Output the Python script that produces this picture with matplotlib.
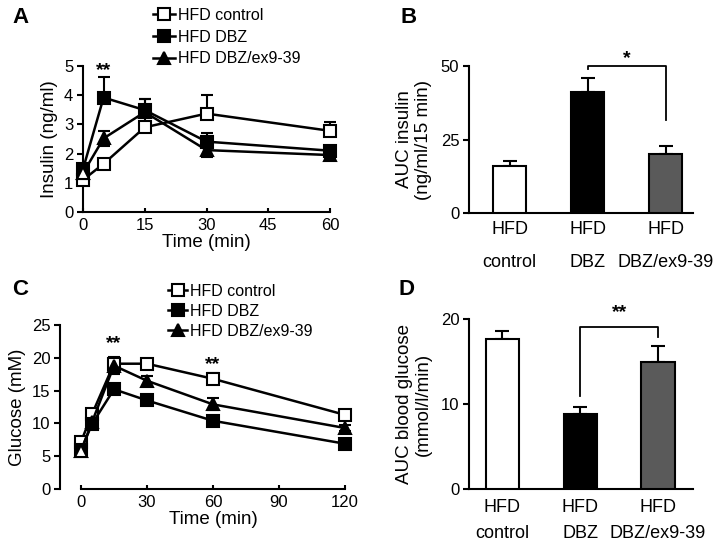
import matplotlib
matplotlib.use("Agg")
import matplotlib.pyplot as plt
from matplotlib.lines import Line2D

plt.rcParams['font.family'] = ['Liberation Sans', 'DejaVu Sans']

# panel A - insulin during OGTT
t_ins = [0, 5, 15, 30, 60]
ins_ctrl = [1.10, 1.65, 2.90, 3.37, 2.78]
ins_ctrl_err = [0.05, 0.10, 0.15, 0.63, 0.30]
ins_dbz = [1.47, 3.92, 3.49, 2.41, 2.10]
ins_dbz_err = [0.10, 0.70, 0.38, 0.28, 0.12]
ins_ex = [1.33, 2.52, 3.42, 2.12, 1.95]
ins_ex_err = [0.10, 0.27, 0.45, 0.22, 0.10]

# panel B - AUC insulin
groups = ['HFD\ncontrol', 'HFD\nDBZ', 'HFD\nDBZ/ex9-39']
auc_ins = [16.0, 41.2, 20.1]
auc_ins_err = [1.6, 4.8, 2.7]

# panel C - glucose
t_glu = [0, 5, 15, 30, 60, 120]
glu_ctrl = [7.2, 11.4, 19.1, 19.1, 16.8, 11.3]
glu_ctrl_err = [0.4, 0.8, 1.0, 0.5, 0.9, 0.6]
glu_dbz = [5.9, 9.9, 15.2, 13.5, 10.4, 6.9]
glu_dbz_err = [0.3, 0.5, 0.5, 0.5, 0.4, 0.3]
glu_ex = [5.8, 10.2, 18.8, 16.5, 12.9, 9.3]
glu_ex_err = [0.3, 0.8, 1.2, 0.8, 0.9, 0.5]

# panel D - AUC glucose
auc_glu = [17.7, 8.85, 14.9]
auc_glu_err = [0.9, 0.85, 1.9]

bar_colors = ['white', 'black', '#5a5a5a']
names = ['HFD control', 'HFD DBZ', 'HFD DBZ/ex9-39']

W, H = 726, 541
fig = plt.figure(figsize=(W / 100, H / 100), dpi=100)


def box(l, r, t, b):
    return [l / W, 1 - b / H, (r - l) / W, (b - t) / H]


def style(ax):
    for s in ['top', 'right']:
        ax.spines[s].set_visible(False)
    for s in ['left', 'bottom']:
        ax.spines[s].set_linewidth(1.5)
    ax.tick_params(axis='y', direction='out', length=4, width=1.5, labelsize=12, pad=3)


def lines(ax, t, series):
    handles = []
    specs = [('s', 'white'), ('s', 'black'), ('^', 'black')]
    for (y, e), (m, fc), nm in zip(series, specs, names):
        lo = e if m == '^' else [0] * len(e)
        ax.errorbar(t, y, yerr=[lo, e], fmt='none', ecolor='black',
                    elinewidth=1.5, capsize=4.5, capthick=1.5, clip_on=False, zorder=2)
        ax.plot(t, y, color='black', lw=1.8, marker=m, ms=9 if m == '^' else 8,
                mfc=fc, mec='black', mew=1.5, clip_on=False, zorder=3)
        handles.append(Line2D([], [], color='black', lw=1.8, marker=m,
                              ms=9 if m == '^' else 8, mfc=fc, mec='black', mew=1.5))
    # first triangle shows open in the original
    ax.plot(t[0], series[2][0][0], marker='^', ms=8, mfc='white', mec='black',
            mew=1.5, clip_on=False, zorder=4)
    return handles


def bars(ax, vals, errs):
    x = range(len(vals))
    ax.bar(x, vals, width=0.43, color=bar_colors, edgecolor='black', linewidth=1.5, zorder=3)
    ax.errorbar(x, vals, yerr=[[0] * len(vals), errs], fmt='none', ecolor='black',
                elinewidth=1.5, capsize=5, capthick=1.5, zorder=2)
    ax.set_xticks(list(x))
    ax.tick_params(axis='x', length=0, labelsize=13, pad=6)


# ---- A
axA = fig.add_axes(box(83, 330, 66, 212))
style(axA)
hA = lines(axA, t_ins, [(ins_ctrl, ins_ctrl_err), (ins_dbz, ins_dbz_err), (ins_ex, ins_ex_err)])
axA.set_xlim(0, 60)
axA.set_ylim(0, 5)
axA.set_xticks([0, 15, 30, 45, 60])
axA.set_yticks(range(6))
axA.tick_params(axis='x', direction='in', length=3, width=1.5, labelsize=12, pad=4)
axA.set_xlabel('Time (min)', fontsize=13.5, labelpad=1)
axA.set_ylabel('Insulin (ng/ml)', fontsize=13.5, labelpad=4)
axA.text(5, 4.85, '**', ha='center', va='center', fontsize=14, fontweight='bold')
fig.legend(hA, names, loc='upper left', bbox_to_anchor=(153 / W, 1 - 8 / H),
           frameon=False, fontsize=11.5, handlelength=1.4, handletextpad=0.15,
           labelspacing=0.42, borderpad=0, borderaxespad=0)

# ---- B
axB = fig.add_axes(box(469, 693, 66, 213))
style(axB)
bars(axB, auc_ins, auc_ins_err)
axB.set_xticklabels(groups, linespacing=2.2)
axB.set_xlim(-0.52, 2.35)
axB.set_ylim(0, 50)
axB.set_yticks([0, 25, 50])
axB.set_ylabel('AUC insulin\n(ng/ml/15 min)', fontsize=13.5, labelpad=6, linespacing=1.15)
axB.plot([1, 1, 2, 2], [49, 50, 50, 31.5], color='black', lw=1.3, clip_on=False)
axB.text(1.5, 52.5, '*', ha='center', va='center', fontsize=14, fontweight='bold')

# ---- C
axC = fig.add_axes(box(81, 345, 325, 489))
style(axC)
axC.spines['left'].set_position(('outward', 15))
hC = lines(axC, t_glu, [(glu_ctrl, glu_ctrl_err), (glu_dbz, glu_dbz_err), (glu_ex, glu_ex_err)])
axC.set_xlim(0, 120)
axC.set_ylim(0, 25)
axC.set_xticks([0, 30, 60, 90, 120])
axC.set_yticks(range(0, 26, 5))
axC.tick_params(axis='x', direction='in', length=3, width=1.5, labelsize=12, pad=4)
axC.set_xlabel('Time (min)', fontsize=13.5, labelpad=1)
axC.set_ylabel('Glucose (mM)', fontsize=13.5, labelpad=4)
axC.text(15, 22.2, '**', ha='center', va='center', fontsize=14, fontweight='bold')
axC.text(60, 18.9, '**', ha='center', va='center', fontsize=14, fontweight='bold')
fig.legend(hC, names, loc='upper left', bbox_to_anchor=(168 / W, 1 - 284 / H),
           frameon=False, fontsize=11.5, handlelength=1.2, handletextpad=0.15,
           labelspacing=0.3, borderpad=0, borderaxespad=0)

# ---- D
axD = fig.add_axes(box(469, 693, 319, 489))
style(axD)
bars(axD, auc_glu, auc_glu_err)
axD.set_xticklabels(groups, linespacing=1.75)
axD.tick_params(axis='x', pad=7)
axD.set_xlim(-0.43, 2.45)
axD.set_ylim(0, 20)
axD.set_yticks([0, 10, 20])
axD.set_ylabel('AUC blood glucose\n(mmol/l/min)', fontsize=13.5, labelpad=6, linespacing=1.15)
axD.plot([1, 1, 2, 2], [11, 19.1, 19.1, 17.9], color='black', lw=1.3, clip_on=False)
axD.text(1.5, 20.7, '**', ha='center', va='center', fontsize=14, fontweight='bold')

# panel letters
for lbl, x, y in [('A', 12, 7), ('B', 401, 7), ('C', 12, 279), ('D', 398, 279)]:
    fig.text(x / W, 1 - y / H, lbl, fontsize=16, fontweight='bold', va='top', ha='left')

fig.savefig('out.png', dpi=100)
